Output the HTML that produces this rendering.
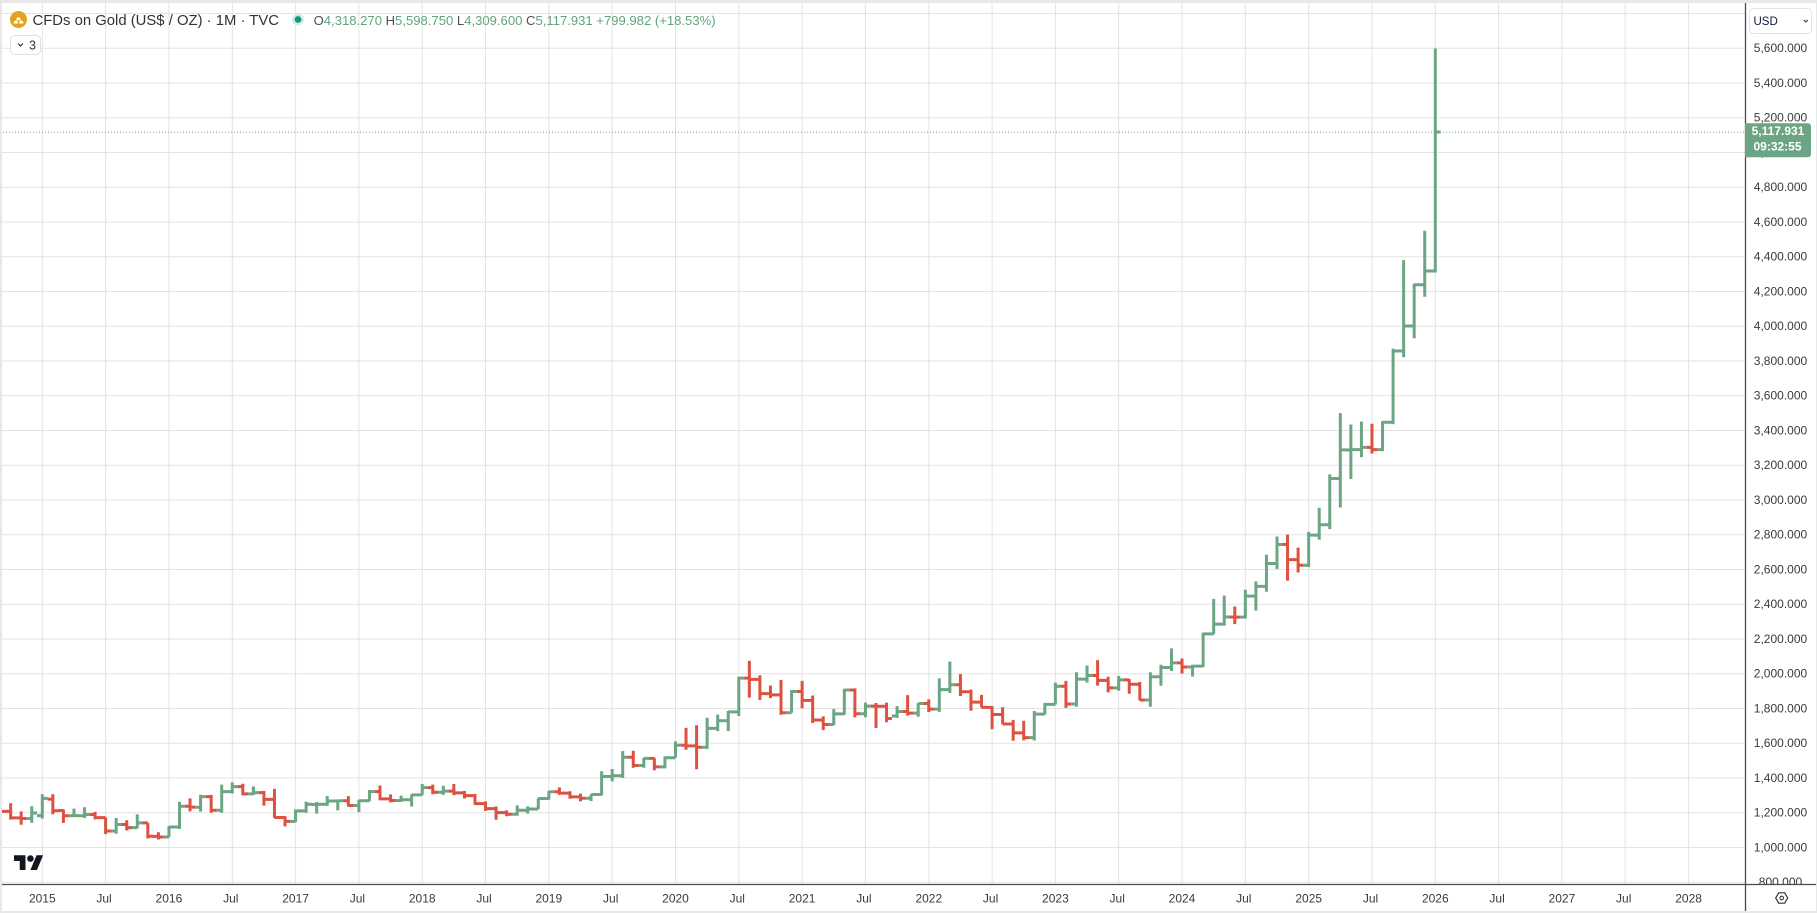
<!DOCTYPE html>
<html><head><meta charset="utf-8"><style>
html,body{margin:0;padding:0;background:#fff;width:1817px;height:913px;overflow:hidden}
svg{display:block}
</style></head><body>
<svg width="1817" height="913" viewBox="0 0 1817 913" xmlns="http://www.w3.org/2000/svg" font-family="'Liberation Sans', Arial, sans-serif">
<defs>
<clipPath id="c"><rect x="0" y="3" width="1745" height="881"/></clipPath>
<clipPath id="p"><rect x="1746" y="3" width="71" height="881"/></clipPath>
</defs>
<rect width="1817" height="913" fill="#fff"/>
<!-- grid -->
<g stroke="#e3e3e3" stroke-width="1" fill="none" clip-path="url(#c)">
<path d="M0 13.55H1745M0 48.3H1745M0 83.05H1745M0 117.8H1745M0 152.55H1745M0 187.3H1745M0 222.05H1745M0 256.8H1745M0 291.55H1745M0 326.3H1745M0 361.05H1745M0 395.8H1745M0 430.55H1745M0 465.3H1745M0 500.05H1745M0 534.8H1745M0 569.55H1745M0 604.3H1745M0 639.05H1745M0 673.8H1745M0 708.55H1745M0 743.3H1745M0 778.05H1745M0 812.8H1745M0 847.55H1745M0 882.3H1745"/>
<path d="M42.3 3V884M105.6 3V884M168.9 3V884M232.3 3V884M295.6 3V884M358.9 3V884M422.2 3V884M485.5 3V884M548.8 3V884M612.2 3V884M675.5 3V884M738.8 3V884M802.1 3V884M865.4 3V884M928.8 3V884M992.1 3V884M1055.4 3V884M1118.7 3V884M1182 3V884M1245.3 3V884M1308.7 3V884M1372 3V884M1435.3 3V884M1498.6 3V884M1561.9 3V884M1625.2 3V884M1688.6 3V884"/>
</g>
<!-- price line -->
<line x1="0" y1="132.3" x2="1745" y2="132.3" stroke="#6ba583" stroke-width="1" stroke-dasharray="1 2"/>
<!-- bars -->
<g clip-path="url(#c)">
<g transform="translate(42.3 1021.3) scale(10.553 -0.17375)" fill="none" stroke-linecap="butt">
<path vector-effect="non-scaling-stroke" stroke="#6ba583" stroke-width="3" d="M-1 1142V1238M-1.5 1167h.5M-1 1199h.5M0 1167V1307M-.5 1184h.5M0 1283h.5M3 1175V1224M2.5 1183h.5M3 1184h.5M4 1170V1232M3.5 1183h.5M4 1190h.5M7 1080V1170M6.5 1095h.5M7 1133h.5M9 1110V1191M8.5 1115h.5M9 1142h.5M12 1060V1123M11.5 1061h.5M12 1118h.5M13 1107V1263M12.5 1118h.5M13 1238h.5M15 1207V1304M14.5 1232h.5M15 1293h.5M17 1200V1362M16.5 1215h.5M17 1322h.5M18 1311V1375M17.5 1322h.5M18 1351h.5M20 1302V1352M19.5 1309h.5M20 1316h.5M24 1146V1220M23.5 1151h.5M24 1211h.5M25 1200V1264M24.5 1211h.5M25 1249h.5M26 1195V1262M25.5 1248h.5M26 1249h.5M27 1240V1296M26.5 1249h.5M27 1268h.5M28 1214V1270M27.5 1268h.5M28 1269h.5M30 1204V1275M29.5 1242h.5M30 1269h.5M31 1267V1331M30.5 1269h.5M31 1322h.5M34 1263V1299M33.5 1271h.5M34 1275h.5M35 1236V1307M34.5 1275h.5M35 1303h.5M36 1302V1366M35.5 1303h.5M36 1345h.5M38 1303V1356M37.5 1318h.5M38 1325h.5M45 1183V1243M44.5 1192h.5M45 1215h.5M46 1196V1237M45.5 1215h.5M46 1222h.5M47 1221V1284M46.5 1222h.5M47 1282h.5M48 1276V1326M47.5 1282h.5M48 1321h.5M52 1267V1306M51.5 1284h.5M52 1305h.5M53 1301V1439M52.5 1305h.5M53 1409h.5M54 1381V1452M53.5 1409h.5M54 1413h.5M55 1400V1555M54.5 1413h.5M55 1520h.5M57 1459V1517M56.5 1472h.5M57 1513h.5M59 1456V1524M58.5 1464h.5M59 1517h.5M60 1517V1611M59.5 1517h.5M60 1589h.5M63 1568V1747M62.5 1577h.5M63 1686h.5M64 1670V1765M63.5 1686h.5M64 1730h.5M65 1671V1786M64.5 1730h.5M65 1781h.5M66 1757V1984M65.5 1781h.5M66 1975h.5M71 1776V1906M70.5 1776h.5M71 1898h.5M75 1705V1797M74.5 1708h.5M75 1769h.5M76 1765V1913M75.5 1769h.5M76 1907h.5M78 1750V1834M77.5 1770h.5M78 1814h.5M81 1746V1814M80.5 1757h.5M81 1783h.5M83 1753V1831M82.5 1774h.5M83 1829h.5M85 1781V1974M84.5 1797h.5M85 1909h.5M86 1890V2070M85.5 1909h.5M86 1937h.5M94 1616V1786M93.5 1633h.5M94 1768h.5M95 1765V1833M94.5 1768h.5M95 1824h.5M96 1823V1949M95.5 1824h.5M96 1928h.5M98 1810V2009M97.5 1826h.5M98 1969h.5M99 1949V2048M98.5 1969h.5M99 1990h.5M102 1903V1987M101.5 1919h.5M102 1965h.5M105 1810V2009M104.5 1849h.5M105 1983h.5M106 1931V2052M105.5 1983h.5M106 2036h.5M107 2016V2146M106.5 2036h.5M107 2063h.5M109 1984V2052M108.5 2039h.5M109 2044h.5M110 2039V2236M109.5 2044h.5M110 2230h.5M111 2228V2431M110.5 2230h.5M111 2286h.5M112 2277V2450M111.5 2286h.5M112 2327h.5M114 2319V2484M113.5 2326h.5M114 2447h.5M115 2364V2531M114.5 2447h.5M115 2503h.5M116 2472V2685M115.5 2503h.5M116 2635h.5M117 2604V2790M116.5 2635h.5M117 2744h.5M120 2614V2817M119.5 2625h.5M120 2798h.5M121 2772V2956M120.5 2798h.5M121 2858h.5M122 2833V3148M121.5 2858h.5M122 3124h.5M123 2957V3500M122.5 3124h.5M123 3289h.5M124 3121V3435M123.5 3288h.5M124 3290h.5M125 3246V3452M124.5 3290h.5M125 3303h.5M127 3281V3454M126.5 3290h.5M127 3448h.5M128 3437V3871M127.5 3448h.5M128 3858h.5M129 3822V4381M128.5 3858h.5M129 4002h.5M130 3931V4245M129.5 4002h.5M130 4239h.5M131 4170V4550M130.5 4239h.5M131 4318h.5M132 4309.6V5598.75M131.5 4318.27h.5M132 5117.93h.5"/>
<path vector-effect="non-scaling-stroke" stroke="#dd5140" stroke-width="3" d="M-4 1206V1287M-4.5 1287h.5M-4 1208h.5M-3 1161V1255M-3.5 1208h.5M-3 1171h.5M-2 1131V1208M-2.5 1171h.5M-2 1167h.5M1 1191V1307M.5 1279h.5M1 1212h.5M2 1142V1219M1.5 1213h.5M2 1183h.5M5 1162V1205M4.5 1190h.5M5 1172h.5M6 1077V1174M5.5 1172h.5M6 1095h.5M8 1098V1157M7.5 1133h.5M8 1115h.5M10 1052V1142M9.5 1142h.5M10 1065h.5M11 1046V1088M10.5 1064h.5M11 1061h.5M14 1208V1283M13.5 1238h.5M14 1233h.5M16 1200V1303M15.5 1293h.5M16 1215h.5M19 1300V1367M18.5 1351h.5M19 1309h.5M21 1241V1326M20.5 1316h.5M21 1277h.5M22 1171V1338M21.5 1277h.5M22 1173h.5M23 1122V1181M22.5 1173h.5M23 1151h.5M29 1236V1296M28.5 1269h.5M29 1242h.5M32 1272V1357M31.5 1322h.5M32 1280h.5M33 1260V1306M32.5 1280h.5M33 1271h.5M37 1307V1362M36.5 1345h.5M37 1318h.5M39 1302V1366M38.5 1325h.5M39 1315h.5M40 1282V1326M39.5 1315h.5M40 1299h.5M41 1246V1309M40.5 1299h.5M41 1253h.5M42 1211V1266M41.5 1253h.5M42 1224h.5M43 1160V1236M42.5 1224h.5M43 1201h.5M44 1180V1214M43.5 1201h.5M44 1192h.5M49 1303V1346M48.5 1321h.5M49 1313h.5M50 1281V1324M49.5 1313h.5M50 1292h.5M51 1266V1310M50.5 1292h.5M51 1284h.5M56 1459V1557M55.5 1520h.5M56 1472h.5M58 1445V1516M57.5 1513h.5M58 1464h.5M61 1563V1689M60.5 1589h.5M61 1585h.5M62 1451V1704M61.5 1585h.5M62 1577h.5M67 1863V2075M66.5 1975h.5M67 1968h.5M68 1849V1992M67.5 1968h.5M68 1886h.5M69 1860V1933M68.5 1886h.5M69 1879h.5M70 1764V1965M69.5 1879h.5M70 1776h.5M72 1802V1959M71.5 1898h.5M72 1847h.5M73 1717V1875M72.5 1847h.5M73 1734h.5M74 1676V1755M73.5 1734h.5M74 1708h.5M77 1750V1916M76.5 1907h.5M77 1770h.5M79 1688V1832M78.5 1814h.5M79 1813h.5M80 1721V1834M79.5 1813h.5M80 1743h.5M82 1759V1877M81.5 1783h.5M82 1774h.5M84 1780V1853M83.5 1829h.5M84 1797h.5M87 1872V1998M86.5 1937h.5M87 1897h.5M88 1787V1909M87.5 1897h.5M88 1837h.5M89 1805V1879M88.5 1837h.5M89 1807h.5M90 1681V1814M89.5 1807h.5M90 1766h.5M91 1709V1808M90.5 1766h.5M91 1711h.5M92 1615V1735M91.5 1711h.5M92 1660h.5M93 1617V1730M92.5 1660h.5M93 1633h.5M97 1804V1959M96.5 1928h.5M97 1826h.5M100 1932V2079M99.5 1990h.5M100 1962h.5M101 1893V1983M100.5 1962h.5M101 1919h.5M103 1885V1970M102.5 1965h.5M103 1940h.5M104 1846V1953M103.5 1940h.5M104 1849h.5M108 2002V2088M107.5 2063h.5M108 2039h.5M113 2286V2387M112.5 2327h.5M113 2326h.5M118 2536V2801M117.5 2744h.5M118 2657h.5M119 2583V2726M118.5 2657h.5M119 2625h.5M126 3268V3439M125.5 3303h.5M126 3290h.5"/>
</g>
</g>
<!-- header -->
<circle cx="18.5" cy="19.5" r="8.5" fill="#e3a31d"/>
<path d="M13.5 23.5h4.6l-.8-2.8h-3zM18.9 23.5h4.6l-.8-2.8h-3zM16.2 20.2h4.6l-.8-2.8h-3z" fill="#fff"/>
<text x="32.5" y="25" font-size="15" fill="#333" textLength="246.5" lengthAdjust="spacingAndGlyphs">CFDs on Gold (US$ / OZ) · 1M · TVC</text>
<circle cx="298" cy="19.5" r="6" fill="#d5ede6"/>
<circle cx="298" cy="19.5" r="3.4" fill="#14977f"/>
<text x="313.6" y="25" font-size="13" fill="#62a47f" textLength="402" lengthAdjust="spacingAndGlyphs"><tspan fill="#505050">O</tspan>4,318.270 <tspan fill="#505050">H</tspan>5,598.750 <tspan fill="#505050">L</tspan>4,309.600 <tspan fill="#505050">C</tspan>5,117.931 +799.982 (+18.53%)</text>
<rect x="10.5" y="35.5" width="30" height="19" rx="4" fill="#fff" stroke="#dfe1e6"/>
<path d="M18 43.5l2.5 2.5 2.5-2.5" fill="none" stroke="#333" stroke-width="1.2"/>
<text x="29" y="49.5" font-size="12.5" fill="#333">3</text>
<!-- logo -->
<g transform="translate(14 852) scale(0.82)" fill="#131722">
<path d="M14 22H7V11H0V4h14v18zM28 22h-8l7.5-18h8L28 22z"/><circle cx="20" cy="8" r="4"/>
</g>
<!-- axes lines -->
<line x1="0" y1="884.5" x2="1817" y2="884.5" stroke="#4a4a4a" stroke-width="1.3"/>
<line x1="1745.5" y1="3" x2="1745.5" y2="913" stroke="#4a4a4a" stroke-width="1.3"/>
<!-- price labels -->
<g font-size="12" fill="#3a3a3a" text-anchor="middle" clip-path="url(#p)">
<text x="1780.5" y="52.2">5,600.000</text>
<text x="1780.5" y="86.9">5,400.000</text>
<text x="1780.5" y="121.7">5,200.000</text>
<text x="1780.5" y="156.4">5,000.000</text>
<text x="1780.5" y="191.2">4,800.000</text>
<text x="1780.5" y="225.9">4,600.000</text>
<text x="1780.5" y="260.7">4,400.000</text>
<text x="1780.5" y="295.4">4,200.000</text>
<text x="1780.5" y="330.2">4,000.000</text>
<text x="1780.5" y="364.9">3,800.000</text>
<text x="1780.5" y="399.7">3,600.000</text>
<text x="1780.5" y="434.4">3,400.000</text>
<text x="1780.5" y="469.2">3,200.000</text>
<text x="1780.5" y="503.9">3,000.000</text>
<text x="1780.5" y="538.7">2,800.000</text>
<text x="1780.5" y="573.4">2,600.000</text>
<text x="1780.5" y="608.2">2,400.000</text>
<text x="1780.5" y="642.9">2,200.000</text>
<text x="1780.5" y="677.7">2,000.000</text>
<text x="1780.5" y="712.4">1,800.000</text>
<text x="1780.5" y="747.2">1,600.000</text>
<text x="1780.5" y="781.9">1,400.000</text>
<text x="1780.5" y="816.7">1,200.000</text>
<text x="1780.5" y="851.4">1,000.000</text>
<text x="1780.5" y="886.2">800.000</text>
</g>
<!-- current price box -->
<path d="M1745 123.3H1808a3 3 0 0 1 3 3V154.3a3 3 0 0 1-3 3H1745z" fill="#6ba583"/>
<text x="1778" y="135" font-size="12" font-weight="bold" fill="#fff" text-anchor="middle">5,117.931</text>
<text x="1777.5" y="150.5" font-size="12" font-weight="bold" fill="#fff" text-anchor="middle">09:32:55</text>
<!-- USD button -->
<rect x="1749.5" y="8.5" width="62" height="25" rx="4" fill="#fff" stroke="#e0e3eb"/>
<text x="1753.5" y="25" font-size="11.5" fill="#0f1b3d">USD</text>
<path d="M1803.8 20l2 2 2-2" fill="none" stroke="#333" stroke-width="1.1"/>
<!-- time labels -->
<g font-size="12" fill="#3a3a3a" text-anchor="middle">
<text x="42.3" y="902.5">2015</text>
<text x="104" y="902.5">Jul</text>
<text x="168.9" y="902.5">2016</text>
<text x="230.8" y="902.5">Jul</text>
<text x="295.6" y="902.5">2017</text>
<text x="357.4" y="902.5">Jul</text>
<text x="422.2" y="902.5">2018</text>
<text x="484" y="902.5">Jul</text>
<text x="548.8" y="902.5">2019</text>
<text x="610.7" y="902.5">Jul</text>
<text x="675.5" y="902.5">2020</text>
<text x="737.3" y="902.5">Jul</text>
<text x="802.1" y="902.5">2021</text>
<text x="863.9" y="902.5">Jul</text>
<text x="928.8" y="902.5">2022</text>
<text x="990.6" y="902.5">Jul</text>
<text x="1055.4" y="902.5">2023</text>
<text x="1117.2" y="902.5">Jul</text>
<text x="1182" y="902.5">2024</text>
<text x="1243.8" y="902.5">Jul</text>
<text x="1308.7" y="902.5">2025</text>
<text x="1370.5" y="902.5">Jul</text>
<text x="1435.3" y="902.5">2026</text>
<text x="1497.1" y="902.5">Jul</text>
<text x="1561.9" y="902.5">2027</text>
<text x="1623.7" y="902.5">Jul</text>
<text x="1688.6" y="902.5">2028</text>
</g>
<!-- settings icon -->
<path d="M1778.7 892.8h6l3 5.2-3 5.2h-6l-3-5.2z" fill="none" stroke="#333" stroke-width="1.2"/>
<circle cx="1781.7" cy="898" r="1.8" fill="none" stroke="#333" stroke-width="1.1"/>
<!-- frame -->
<rect x="0" y="0" width="1817" height="3" fill="#e8e8eb"/>
<rect x="0" y="0" width="2" height="913" fill="#e8e8eb"/>
<rect x="0" y="911" width="1817" height="2" fill="#e8e8eb"/>
<rect x="1816" y="0" width="1" height="913" fill="#e8e8eb"/>
</svg>
</body></html>
